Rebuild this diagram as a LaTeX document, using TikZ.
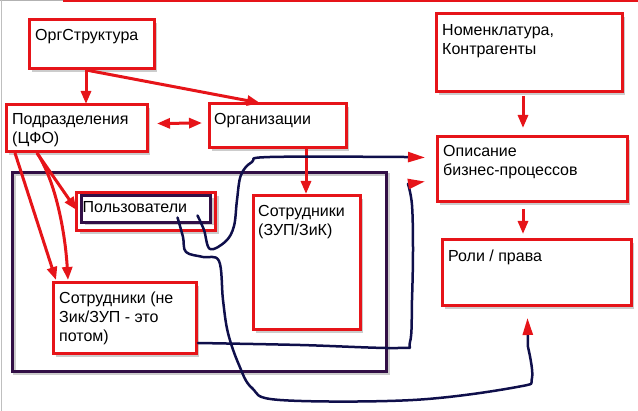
\documentclass[tikz,border=0pt]{standalone}
\usepackage{fontspec}
\setmainfont{Liberation Sans}
\usetikzlibrary{calc, positioning, arrows.meta, shadows}
\definecolor{boxred}{RGB}{230,20,25}
\definecolor{navyline}{RGB}{15,15,75}
\definecolor{framepurple}{RGB}{50,15,70}

\begin{document}
\begin{tikzpicture}[x=1pt, y=-1pt, >={Triangle[length=13pt, width=10pt]},
  box/.style={draw=boxred, line width=3pt, fill=white, anchor=north west,
    inner sep=0pt, outer sep=0pt,
    drop shadow={shadow xshift=3pt, shadow yshift=-3pt, fill=black, opacity=0.2}},
  frame/.style={draw=framepurple, line width=3pt, anchor=north west,
    inner sep=0pt, outer sep=0pt,
    preaction={draw=black!20, line width=3pt, transform canvas={shift={(2pt,-2pt)}}}},
  txt/.style={anchor=north west, inner sep=0pt, align=left,
    font=\fontsize{16}{19}\selectfont},
  redarrow/.style={draw=boxred, line width=3pt, ->},
  navyarrow/.style={draw=navyline, line width=2.5pt, line cap=round, line join=round,
    -{Triangle[length=17pt, width=10pt, color=boxred]}}]
  \useasboundingbox (0,0) rectangle (638,411);

  % page edges
  \draw[black!30, line width=1.5pt] (0,0.75) -- (63,0.75);
  \draw[boxred, line width=3pt] (63,1) -- (638,1);
  \draw[black!25, line width=1pt] (1.5,0) -- (1.5,411);

  % group frame and boxes
  \node[frame, minimum width=374pt, minimum height=199pt] (grp) at (12,173) {};
  \node[box, minimum width=125pt, minimum height=49pt] (org) at (29,20) {};
  \node[box, minimum width=141pt, minimum height=47pt] (podr) at (6,105) {};
  \node[box, minimum width=137pt, minimum height=44pt] (orgn) at (209,104) {};
  \node[box, minimum width=186pt, minimum height=78pt] (nomen) at (436,14) {};
  \node[box, minimum width=190pt, minimum height=65pt] (opis) at (437,137) {};
  \node[box, minimum width=189pt, minimum height=66pt] (roli) at (442,240) {};
  \node[box, minimum width=139pt, minimum height=38pt] (polz) at (76.5,193) {};
  \node[box, draw=framepurple, minimum width=129pt, minimum height=27pt] (polzin) at (81.5,195.5) {};
  \node[box, minimum width=107pt, minimum height=134pt] (sotrz) at (253,196) {};
  \node[box, minimum width=143pt, minimum height=71pt] (sotrn) at (53,283) {};

  % texts
  \node[txt] (orgT) at ($(org.north west)+(6,9)$) {ОргСтруктура};
  \node[txt] (podrT) at ($(podr.north west)+(6,8)$) {Подразделения\\(ЦФО)};
  \node[txt] (orgnT) at ($(orgn.north west)+(5,9)$) {Организации};
  \node[txt] (nomenT) at ($(nomen.north west)+(6,10)$) {Номенклатура,\\Контрагенты};
  \node[txt] (opisT) at ($(opis.north west)+(6,8)$) {Описание\\бизнес-процессов};
  \node[txt] (roliT) at ($(roli.north west)+(6,10)$) {Роли / права};
  \node[txt] (polzT) at ($(polz.north west)+(6,8)$) {Пользователи};
  \node[txt] (sotrzT) at ($(sotrz.north west)+(5,9)$) {Сотрудники\\(ЗУП/ЗиК)};
  \node[txt] (sotrnT) at ($(sotrn.north west)+(6,9)$) {Сотрудники (не\\Зик/ЗУП - это\\потом)};

  % red arrows
  \draw[redarrow] ($(org.south west)+(57,1)$) -- ($(podr.north west)+(80,-1)$);
  \draw[redarrow] ($(org.south west)+(57,1)$) -- ($(orgn.north west)+(51,-1)$);
  \draw[redarrow, <->] ($(podr.east)+(10,-5)$) -- ($(orgn.west)+(-7,-3)$);
  \draw[redarrow] ($(orgn.south west)+(97,1)$) -- ($(sotrz.north west)+(53,-2)$);
  \draw[redarrow] ($(podr.south west)+(9,1)$) -- ($(sotrn.north west)+(3,-3)$);
  \draw[redarrow] ($(podr.south west)+(31,1)$) .. controls (55,180) and (65,230) .. ($(sotrn.north west)+(15,-3)$);
  \draw[redarrow] ($(podr.south west)+(31,1)$) -- ($(polz.west)+(0,-2)$);
  \draw[redarrow] ($(nomen.south west)+(87,4)$) -- ($(opis.north west)+(86,-9)$);
  \draw[redarrow] ($(opis.south west)+(86,7)$) -- ($(roli.north west)+(81,-6)$);

  % navy links
  \draw[navyarrow] plot[smooth, tension=0.6] coordinates {($(polzin.south east)+(-13,-7)$)
    (204,230) (210,249) (226,241) (234,226) (237,200) (241,175) (252,162) (270,157)
    (404,157)} -- ($(opis.west)+(-12,-12)$);
  \draw[navyarrow] plot[smooth, tension=0.6] coordinates {($(polzin.south west)+(96,-5)$)
    (183,237) (186,252) (203,257) (219,261) (223,300) (228,333) (239,365) (252,388)
    (280,400) (413,400) (517,387) (532,378) (528,347)} -- ($(roli.south)+(-9,12)$);
  \draw[navyarrow] plot[smooth, tension=0.6] coordinates {($(sotrn.south east)+(2,-11)$)
    (300,345) (398,348) (410,342) (412,300) (413,250) (412,205) (408,184)}
    -- ($(opis.west)+(-12,12)$);
\end{tikzpicture}
\end{document}
